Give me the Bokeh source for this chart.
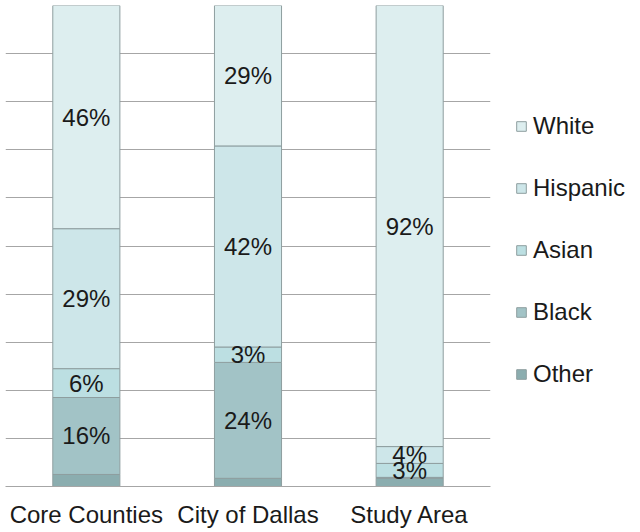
from bokeh.plotting import figure
from bokeh.models import ColumnDataSource, Legend, LegendItem, FactorRange, Range1d, SingleIntervalTicker
from bokeh.embed import file_html
from bokeh.resources import INLINE
from bokeh.core.properties import value

regions = ["Core Counties", "City of Dallas", "Study Area"]
groups = ["Other", "Black", "Asian", "Hispanic", "White"]  # bottom to top
other = [2.5, 1.7, 1.7]
black = [16.0, 24.1, 0.2]
asian = [6.0, 3.2, 2.9]
hispanic = [29.1, 41.8, 3.5]
white = [46.4, 29.3, 91.7]
colors = ["#8badaf", "#a2c3c6", "#bcdfe2", "#cde6e9", "#ddeeef"]

FONT = "Liberation Sans"

data = {"region": regions, "Other": other, "Black": black, "Asian": asian,
        "Hispanic": hispanic, "White": white}
src = ColumnDataSource(data)

# label positions derived from the data
lx, ly, lt = [], [], []
for i, r in enumerate(regions):
    base = 0.0
    for g in groups:
        v = data[g][i]
        if round(v) >= 3:
            lx.append(r)
            ly.append(base + v / 2)
            lt.append(f"{round(v)}%")
        base += v
lsrc = ColumnDataSource(dict(x=lx, y=ly, text=lt))

p = figure(x_range=FactorRange(*regions), y_range=Range1d(0, 100),
           frame_width=485, frame_height=481, output_backend="svg",
           toolbar_location=None, y_axis_location=None,
           min_border_left=5, min_border_top=5, min_border_right=140)
p.x_range.range_padding = 0
p.outline_line_color = None
p.background_fill_color = "white"
p.border_fill_color = "white"

renderers = p.vbar_stack(groups, x="region", width=0.415, color=colors, source=src,
                         line_color="#8e9e9f", line_width=1)

p.text(x="x", y="y", text="text", source=lsrc, text_align="center",
       text_baseline="middle", text_font=value(FONT), text_font_size="24px",
       text_color="#1a1a1a")

p.xgrid.grid_line_color = None
p.ygrid.ticker = SingleIntervalTicker(interval=10, num_minor_ticks=0)
p.ygrid.grid_line_color = "#a6a6a6"
p.ygrid.grid_line_width = 1

p.xaxis.axis_line_color = "#a6a6a6"
p.xaxis.major_tick_line_color = None
p.xaxis.minor_tick_line_color = None
p.xaxis.major_label_text_font = FONT
p.xaxis.major_label_text_font_size = "24px"
p.xaxis.major_label_text_color = "#1a1a1a"
p.xaxis.major_label_standoff = 8

items = [LegendItem(label=g, renderers=[r]) for g, r in zip(groups, renderers)][::-1]
legend = Legend(items=items, location=(25, 98), label_text_font=FONT,
                label_text_font_size="24px", label_text_color="#1a1a1a",
                glyph_width=12, glyph_height=12, label_standoff=6,
                spacing=34, label_height=28, padding=0, margin=0,
                border_line_color=None, background_fill_alpha=0)
p.add_layout(legend, "right")

open("out.html", "w").write(file_html(p, INLINE))
